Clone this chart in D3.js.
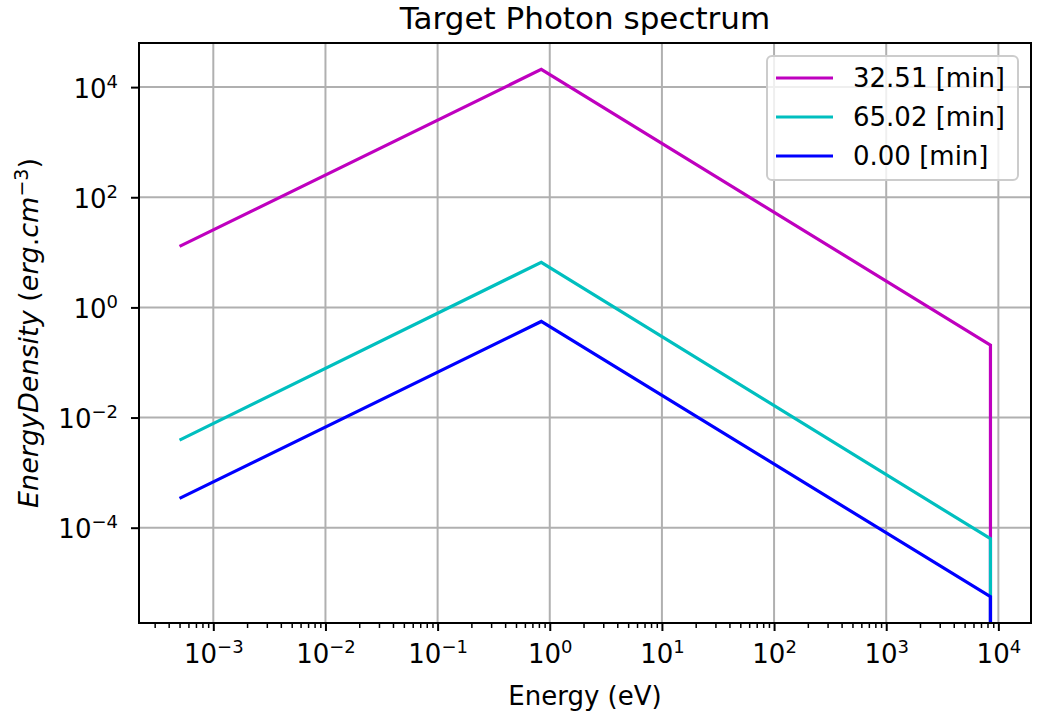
<!DOCTYPE html>
<html>
<head>
<meta charset="utf-8">
<script src="https://cdn.jsdelivr.net/npm/d3@7"></script>
<style>
    body { margin: 0; background: #fff; }
    text { font-family: "DejaVu Sans", sans-serif; fill: #000; }
</style>
</head>
<body>
<script>
// energies (eV) at the break points; last point drops to zero
const energies = [5e-4, 0.84, 8500, 8500];

const seriesNames = ["32.51 [min]", "65.02 [min]", "0.00 [min]"];
const seriesColours = ["#bf00bf", "#00bfbf", "#0000ff"];

const magentaValues = [12.8, 2.1e4, 0.207, 0];
const cyanValues = [3.9e-3, 6.6, 6.3e-5, 0];
const blueValues = [3.4e-4, 0.556, 5.6e-6, 0];

const xTickExps = [-3, -2, -1, 0, 1, 2, 3, 4];
const yTickExps = [-4, -2, 0, 2, 4];

const allValues = [magentaValues, cyanValues, blueValues];

const width = 1046;
const height = 712;
const margin = {top: 43, right: 15, bottom: 89, left: 139};
const innerW = width - margin.left - margin.right;
const innerH = height - margin.top - margin.bottom;

// matplotlib style 5% margins in log space
function logDomain(vals){
    const pos = vals.filter(v => v > 0);
    const lo = Math.log10(d3.min(pos));
    const hi = Math.log10(d3.max(pos));
    const pad = (hi - lo) * 0.05;
    return [Math.pow(10, lo - pad), Math.pow(10, hi + pad)];
}

const x = d3.scaleLog().domain(logDomain(energies)).range([0, innerW]);
const y = d3.scaleLog().domain(logDomain(allValues.flat())).range([innerH, 0]);

const svg = d3.select("body")
    .append("svg")
    .attr("width", width)
    .attr("height", height);

svg.append("defs").append("clipPath")
    .attr("id", "plotClip")
    .append("rect")
    .attr("width", innerW)
    .attr("height", innerH);

const g = svg.append("g")
    .attr("transform", `translate(${margin.left}, ${margin.top})`);

// grid
g.append("g")
    .selectAll("line")
    .data(xTickExps)
    .enter()
    .append("line")
    .attr("x1", d => x(Math.pow(10, d)))
    .attr("x2", d => x(Math.pow(10, d)))
    .attr("y1", 0)
    .attr("y2", innerH)
    .attr("stroke", "#b0b0b0")
    .attr("stroke-width", 2);

g.append("g")
    .selectAll("line")
    .data(yTickExps)
    .enter()
    .append("line")
    .attr("y1", d => y(Math.pow(10, d)))
    .attr("y2", d => y(Math.pow(10, d)))
    .attr("x1", 0)
    .attr("x2", innerW)
    .attr("stroke", "#b0b0b0")
    .attr("stroke-width", 2);

// lines
const line = d3.line()
    .x(d => x(d[0]))
    .y(d => d[1] > 0 ? y(d[1]) : innerH + 20);

const lines = g.append("g").attr("clip-path", "url(#plotClip)");
allValues.forEach((vals, i) => {
    lines.append("path")
        .datum(vals.map((v, j) => [energies[j], v]))
        .attr("d", line)
        .attr("fill", "none")
        .attr("stroke", seriesColours[i])
        .attr("stroke-width", 3.2)
        .attr("stroke-linejoin", "miter");
});

// axes
const minorTicks = [];
for(let e = -4; e <= 4; e++){
    for(let k = 2; k <= 9; k++){
        const v = k * Math.pow(10, e);
        if(v >= x.domain()[0] && v <= x.domain()[1]) minorTicks.push(v);
    }
}

const xAxisMinor = d3.axisBottom(x)
    .tickValues(minorTicks)
    .tickSize(5)
    .tickFormat("");

const xAxis = d3.axisBottom(x)
    .tickValues(xTickExps.map(e => Math.pow(10, e)))
    .tickSize(8)
    .tickFormat("");

const yAxis = d3.axisLeft(y)
    .tickValues(yTickExps.map(e => Math.pow(10, e)))
    .tickSize(8)
    .tickFormat("");

const gxMinor = g.append("g")
    .attr("transform", `translate(0, ${innerH})`)
    .call(xAxisMinor);
gxMinor.selectAll("line").attr("stroke-width", 1.5);
gxMinor.select(".domain").remove();

const gx = g.append("g")
    .attr("transform", `translate(0, ${innerH})`)
    .call(xAxis);
gx.selectAll("line").attr("stroke-width", 2);
gx.select(".domain").remove();

const gy = g.append("g").call(yAxis);
gy.selectAll("line").attr("stroke-width", 2);
gy.select(".domain").remove();

function powerLabel(sel, e){
    sel.append("tspan").text("10");
    sel.append("tspan")
        .attr("dy", -10)
        .attr("font-size", 18)
        .text(String(e).replace("-", "\u2212"));
}

gx.selectAll(".tick").each(function(d){
    const t = d3.select(this).append("text")
        .attr("y", 40)
        .attr("text-anchor", "middle")
        .attr("font-size", 26);
    powerLabel(t, Math.round(Math.log10(d)));
});

gy.selectAll(".tick").each(function(d){
    const t = d3.select(this).append("text")
        .attr("x", -21)
        .attr("y", 10)
        .attr("text-anchor", "end")
        .attr("font-size", 26);
    powerLabel(t, Math.round(Math.log10(d)));
});

// frame
g.append("rect")
    .attr("width", innerW)
    .attr("height", innerH)
    .attr("fill", "none")
    .attr("stroke", "#000")
    .attr("stroke-width", 2);

// labels
svg.append("text")
    .attr("x", margin.left + innerW / 2)
    .attr("y", 29)
    .attr("text-anchor", "middle")
    .attr("font-size", 31)
    .text("Target Photon spectrum");

svg.append("text")
    .attr("x", margin.left + innerW / 2)
    .attr("y", 705)
    .attr("text-anchor", "middle")
    .attr("font-size", 26)
    .text("Energy (eV)");

const yl = svg.append("text")
    .attr("transform", `translate(38, ${margin.top + innerH / 2}) rotate(-90)`)
    .attr("text-anchor", "middle")
    .attr("font-size", 27);
yl.append("tspan").attr("font-style", "italic").text("EnergyDensity");
yl.append("tspan").text(" (");
yl.append("tspan").attr("font-style", "italic").text("erg");
yl.append("tspan").text(".");
yl.append("tspan").attr("font-style", "italic").text("cm");
yl.append("tspan").attr("dy", -10).attr("font-size", 19).text("\u22123");
yl.append("tspan").attr("dy", 10).text(")");

// legend
const legend = svg.append("g").attr("transform", "translate(767, 56)");
legend.append("rect")
    .attr("width", 251)
    .attr("height", 124)
    .attr("rx", 5)
    .attr("fill", "#fff")
    .attr("fill-opacity", 0.8)
    .attr("stroke", "#cccccc")
    .attr("stroke-width", 2);

const legendRows = legend.selectAll(".row")
    .data(seriesNames)
    .enter()
    .append("g")
    .attr("transform", (d, i) => `translate(0, ${22 + i * 39})`);

legendRows.append("line")
    .attr("x1", 9)
    .attr("x2", 66)
    .attr("stroke", (d, i) => seriesColours[i])
    .attr("stroke-width", 3.2);

legendRows.append("text")
    .attr("x", 86)
    .attr("y", 9)
    .attr("font-size", 26)
    .text(d => d);
</script>
</body>
</html>
